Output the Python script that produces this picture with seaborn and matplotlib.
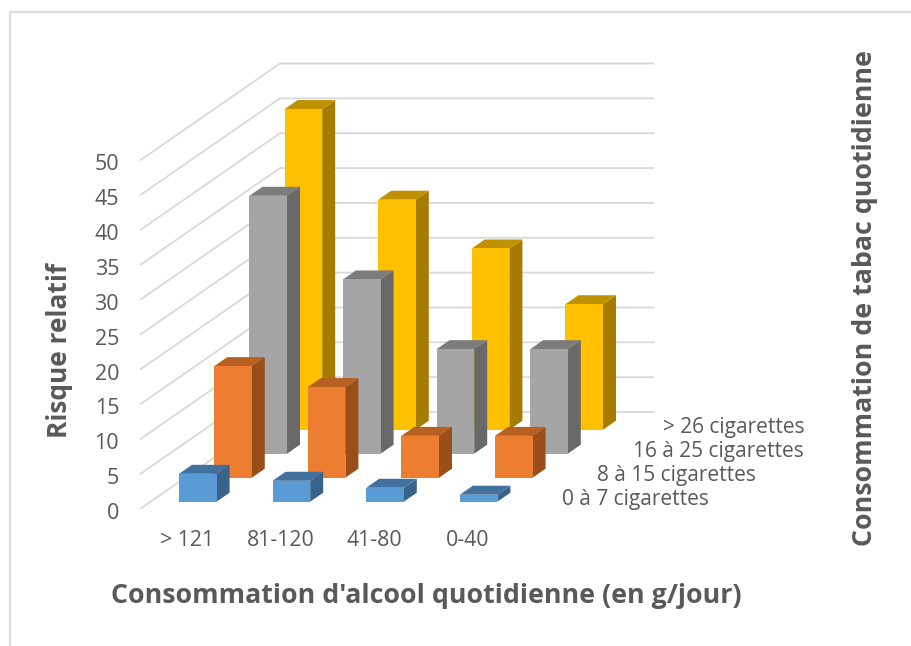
import matplotlib
matplotlib.use("Agg")
import matplotlib.pyplot as plt
from matplotlib.transforms import ScaledTranslation
import numpy as np
import pandas as pd
import seaborn as sns
from matplotlib.patches import Polygon

categories = ["> 121", "81-120", "41-80", "0-40"]
series_names = ["0 à 7 cigarettes", "8 à 15 cigarettes", "16 à 25 cigarettes", "> 26 cigarettes"]
tabac_0_7 = [4, 3, 2, 1]
tabac_8_15 = [16, 13, 6, 6]
tabac_16_25 = [37, 25, 15, 15]
tabac_26 = [46, 33, 26, 18]
y_ticks = [0, 5, 10, 15, 20, 25, 30, 35, 40, 45, 50]

front_colors = ["#5B9BD5", "#ED7D31", "#A5A5A5", "#FFC000"]
top_colors = ["#41719C", "#B85F22", "#7C7C7C", "#BF9000"]
side_colors = ["#38648C", "#9A4F1B", "#696969", "#A67C00"]
GRID = "#D9D9D9"
TXT = "#595959"

W, H = 912, 646
sns.set_theme(style="white")
plt.rcParams["font.family"] = ["Open Sans", "DejaVu Sans"]

df = pd.DataFrame({"alcool": categories * 4,
                   "tabac": np.repeat(series_names, 4),
                   "risque": tabac_0_7 + tabac_8_15 + tabac_16_25 + tabac_26})

fig = plt.figure(figsize=(W / 100, H / 100), dpi=100, facecolor="white")


def axes_px(left, bottom_y, width, height, **kw):
    return fig.add_axes([left / W, 1 - bottom_y / H, width / W, height / H], **kw)


# chart frame: only top and left edges fall inside the picture
fig.add_artist(plt.Line2D([10.5 / W, 10.5 / W, 1], [0, 1 - 12 / H, 1 - 12 / H], color="#DEDEDE", lw=1.6,
                          transform=fig.transFigure))

# Walls: front plane of the floor, with the gridlines running back
PX_UNIT = 6.97
CAT_PX = 93.6
wall = axes_px(140, 509, CAT_PX * 4, PX_UNIT * 50, facecolor="none", zorder=1)
wall.set_xlim(-0.5, 3.5)
wall.set_ylim(0, 50)
sns.despine(ax=wall, left=True, bottom=True)
wall_dx = 140 / CAT_PX
wall_dy = 97 / PX_UNIT
for v in y_ticks:
    wall.plot([-0.5, -0.5 + wall_dx, 3.5 + wall_dx], [v, v + wall_dy, v + wall_dy],
              color=GRID, lw=1.3, clip_on=False, solid_joinstyle="miter", solid_capstyle="butt")
wall.set_xticks(range(len(categories)))
wall.set_xticklabels(categories)
wall.set_yticks(y_ticks)
wall.tick_params(axis="y", length=0, pad=15, labelsize=15.5, colors=TXT)
wall.tick_params(axis="x", length=0, pad=15, labelsize=15.3, colors=TXT)
nudge_down = ScaledTranslation(0, -2 / 100, fig.dpi_scale_trans)
for t in wall.get_yticklabels():
    t.set_transform(t.get_transform() + nudge_down)

# Bars: one axes per depth row, drawn back to front
ROW_DX, ROW_DY = 35.2, 24.0
DEPTH_X = 13.0 / CAT_PX
DEPTH_Y = 9.0 / PX_UNIT
BAR_W = 37.6 / CAT_PX
for i, name in enumerate(series_names):
    ax = axes_px(151.0 + ROW_DX * i, 501.7 - ROW_DY * i, CAT_PX * 4, PX_UNIT * 50,
                 facecolor="none", zorder=2 + (len(series_names) - i))
    sns.barplot(data=df[df.tabac == name], x="alcool", y="risque", order=categories,
                color=front_colors[i], saturation=1, width=BAR_W, ax=ax, linewidth=0, zorder=3)
    ax.set_xlim(-0.5, 3.5)
    ax.set_ylim(0, 50)
    ax.set_axis_off()
    for p in ax.patches:
        x0, x1, h = p.get_x(), p.get_x() + p.get_width(), p.get_height()
        ax.add_patch(Polygon([(x1, 0), (x1 + DEPTH_X, DEPTH_Y), (x1 + DEPTH_X, h + DEPTH_Y), (x1, h)],
                             closed=True, fc=side_colors[i], ec="none", clip_on=False, zorder=2))
        ax.add_patch(Polygon([(x0, h), (x0 + DEPTH_X, h + DEPTH_Y), (x1 + DEPTH_X, h + DEPTH_Y), (x1, h)],
                             closed=True, fc=top_colors[i], ec="none", clip_on=False, zorder=2))

# Depth-axis labels
depth_label_right = [709, 756, 804, 805]
depth_label_y = [500, 476, 452, 427]
for name, xr, yc in zip(series_names, depth_label_right, depth_label_y):
    fig.text(xr / W, 1 - yc / H, name, ha="right", va="center", fontsize=15, color=TXT)

# Axis titles
fig.text(426 / W, 1 - 596 / H, "Consommation d'alcool quotidienne (en g/jour)", ha="center", va="center",
         fontsize=19.3, fontweight="bold", color=TXT)
fig.text(60 / W, 1 - 350 / H, "Risque relatif", rotation=90, ha="center", va="center",
         fontsize=19, fontweight="bold", color=TXT)
fig.text(865 / W, 1 - 298 / H, "Consommation de tabac quotidienne", rotation=90, ha="center", va="center",
         fontsize=19.3, fontweight="bold", color=TXT)

fig.savefig("out.png", dpi=100)
